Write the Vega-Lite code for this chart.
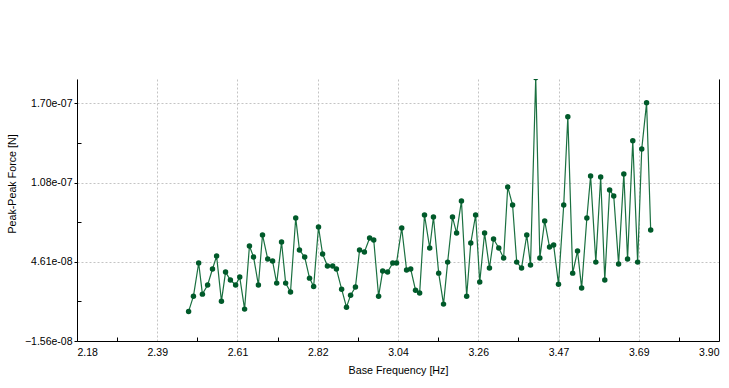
{
  "$schema": "https://vega.github.io/schema/vega-lite/v6.json",
  "width": 642,
  "height": 262,
  "autosize": {"type": "none"},
  "padding": {"left": 77, "top": 79, "right": 10, "bottom": 47},
  "background": "#ffffff",
  "config": {
    "view": {"stroke": null},
    "axis": {"labelFont": "Liberation Sans", "titleFont": "Liberation Sans", "labelColor": "#000000", "titleColor": "#000000", "titleFontWeight": "normal", "domainColor": "#000000", "tickColor": "#000000"}
  },
  "data": {"values": [
    {"f": 2.479, "v": 7.5e-9}, {"f": 2.492, "v": 1.94e-8}, {"f": 2.506, "v": 4.53e-8}, {"f": 2.516, "v": 2.10e-8},
    {"f": 2.530, "v": 2.81e-8}, {"f": 2.543, "v": 4.06e-8}, {"f": 2.554, "v": 5.07e-8}, {"f": 2.567, "v": 1.55e-8},
    {"f": 2.578, "v": 3.82e-8}, {"f": 2.591, "v": 3.20e-8}, {"f": 2.605, "v": 2.81e-8}, {"f": 2.616, "v": 3.43e-8},
    {"f": 2.629, "v": 9.3e-9}, {"f": 2.642, "v": 5.86e-8}, {"f": 2.653, "v": 5.00e-8}, {"f": 2.666, "v": 2.81e-8},
    {"f": 2.677, "v": 6.72e-8}, {"f": 2.691, "v": 4.84e-8}, {"f": 2.704, "v": 4.68e-8}, {"f": 2.715, "v": 2.96e-8},
    {"f": 2.728, "v": 6.17e-8}, {"f": 2.739, "v": 2.96e-8}, {"f": 2.752, "v": 2.26e-8}, {"f": 2.766, "v": 8.05e-8},
    {"f": 2.776, "v": 5.54e-8}, {"f": 2.790, "v": 5.00e-8}, {"f": 2.803, "v": 3.35e-8}, {"f": 2.814, "v": 2.70e-8},
    {"f": 2.827, "v": 7.34e-8}, {"f": 2.838, "v": 5.23e-8}, {"f": 2.851, "v": 4.29e-8}, {"f": 2.865, "v": 4.29e-8},
    {"f": 2.875, "v": 4.06e-8}, {"f": 2.889, "v": 2.49e-8}, {"f": 2.902, "v": 1.08e-8}, {"f": 2.913, "v": 2.02e-8},
    {"f": 2.926, "v": 2.65e-8}, {"f": 2.937, "v": 5.54e-8}, {"f": 2.950, "v": 5.39e-8}, {"f": 2.964, "v": 6.48e-8},
    {"f": 2.975, "v": 6.33e-8}, {"f": 2.988, "v": 1.94e-8}, {"f": 2.999, "v": 3.90e-8}, {"f": 3.012, "v": 3.82e-8},
    {"f": 3.026, "v": 4.53e-8}, {"f": 3.036, "v": 4.53e-8}, {"f": 3.050, "v": 7.26e-8}, {"f": 3.063, "v": 3.98e-8},
    {"f": 3.074, "v": 4.06e-8}, {"f": 3.087, "v": 2.41e-8}, {"f": 3.098, "v": 2.18e-8}, {"f": 3.111, "v": 8.28e-8},
    {"f": 3.125, "v": 5.70e-8}, {"f": 3.135, "v": 8.12e-8}, {"f": 3.149, "v": 3.74e-8}, {"f": 3.162, "v": 1.32e-8},
    {"f": 3.173, "v": 4.60e-8}, {"f": 3.186, "v": 8.12e-8}, {"f": 3.197, "v": 6.87e-8}, {"f": 3.210, "v": 9.38e-8},
    {"f": 3.224, "v": 1.94e-8}, {"f": 3.235, "v": 6.09e-8}, {"f": 3.248, "v": 8.28e-8}, {"f": 3.259, "v": 3.04e-8},
    {"f": 3.272, "v": 6.87e-8}, {"f": 3.285, "v": 4.14e-8}, {"f": 3.296, "v": 6.40e-8}, {"f": 3.310, "v": 5.70e-8},
    {"f": 3.323, "v": 4.92e-8}, {"f": 3.334, "v": 1.047e-7}, {"f": 3.347, "v": 9.06e-8}, {"f": 3.358, "v": 4.60e-8},
    {"f": 3.371, "v": 4.14e-8}, {"f": 3.385, "v": 6.72e-8}, {"f": 3.395, "v": 4.37e-8}, {"f": 3.409, "v": 1.9e-7},
    {"f": 3.420, "v": 4.92e-8}, {"f": 3.433, "v": 7.81e-8}, {"f": 3.446, "v": 5.78e-8}, {"f": 3.457, "v": 5.93e-8},
    {"f": 3.470, "v": 2.88e-8}, {"f": 3.484, "v": 9.06e-8}, {"f": 3.495, "v": 1.595e-7}, {"f": 3.508, "v": 3.74e-8},
    {"f": 3.521, "v": 5.47e-8}, {"f": 3.532, "v": 2.57e-8}, {"f": 3.546, "v": 8.05e-8}, {"f": 3.556, "v": 1.133e-7},
    {"f": 3.570, "v": 4.60e-8}, {"f": 3.583, "v": 1.125e-7}, {"f": 3.594, "v": 3.20e-8}, {"f": 3.607, "v": 1.024e-7},
    {"f": 3.618, "v": 9.77e-8}, {"f": 3.631, "v": 4.45e-8}, {"f": 3.645, "v": 1.149e-7}, {"f": 3.655, "v": 4.84e-8},
    {"f": 3.669, "v": 1.407e-7}, {"f": 3.682, "v": 4.60e-8}, {"f": 3.693, "v": 1.344e-7}, {"f": 3.706, "v": 1.704e-7},
    {"f": 3.717, "v": 7.11e-8}
  ]},
  "resolve": {"axis": {"x": "independent", "y": "independent"}},
  "layer": [
    {
      "mark": {"type": "point", "opacity": 0},
      "encoding": {
        "x": {"field": "f", "type": "quantitative", "scale": {"domain": [2.18, 3.9], "nice": false, "zero": false},
          "axis": {"orient": "bottom", "values": [2.2875, 2.5025, 2.7175, 2.9325, 3.1475, 3.3625, 3.5775, 3.7925], "labels": false, "grid": false, "domain": false, "ticks": true, "tickSize": -4, "title": null}},
        "y": {"field": "v", "type": "quantitative", "scale": {"domain": [-1.56e-8, 1.89e-7], "nice": false, "zero": false},
          "axis": {"orient": "left", "values": [1.525e-8, 7.705e-8, 1.39e-7], "labels": false, "grid": false, "domain": false, "ticks": true, "tickSize": -4, "title": null}}
      }
    },
    {
      "mark": {"type": "point", "opacity": 0},
      "encoding": {
        "x": {"field": "f", "type": "quantitative", "axis": null},
        "y": {"field": "v", "type": "quantitative",
          "axis": {"orient": "right", "labels": false, "grid": false, "ticks": false, "domain": true, "title": null}}
      }
    },
    {
      "mark": {"type": "line", "color": "#1a7040", "strokeWidth": 1.2, "clip": true,
        "point": {"filled": true, "size": 30, "color": "#005a2a", "opacity": 1}},
      "encoding": {
        "x": {"field": "f", "type": "quantitative",
          "axis": {"orient": "bottom", "values": [2.18, 2.395, 2.61, 2.825, 3.04, 3.255, 3.47, 3.685, 3.9],
            "labelExpr": "['2.18','2.39','2.61','2.82','3.04','3.26','3.47','3.69','3.90'][round((datum.value-2.18)/0.215)]",
            "grid": true, "gridColor": "#c4c4c4", "gridDash": [2, 2], "gridWidth": 1,
            "ticks": false, "labelPadding": 6, "labelFontSize": 10.5, "labelFlush": true,
            "domain": true, "domainWidth": 1,
            "title": "Base Frequency [Hz]", "titleFontSize": 10.7, "titleX": 321, "titleY": 29, "titleBaseline": "middle", "titleAlign": "center"}},
        "y": {"field": "v", "type": "quantitative",
          "axis": {"orient": "left", "values": [-1.56e-8, 4.61e-8, 1.08e-7, 1.70e-7],
            "labelExpr": "replace(format(datum.value, '.2e'), 'e-', 'e-0')",
            "grid": true, "gridColor": "#c4c4c4", "gridDash": [2, 2], "gridWidth": 1,
            "ticks": true, "tickSize": 3, "labelPadding": 2, "labelFontSize": 10.5, "labelFlush": false,
            "domain": true, "domainWidth": 1,
            "title": "Peak-Peak Force [N]", "titleFontSize": 10.7, "titleX": -65, "titleY": 104.5, "titleAngle": -90, "titleBaseline": "middle", "titleAlign": "center"}}
      }
    }
  ]
}
